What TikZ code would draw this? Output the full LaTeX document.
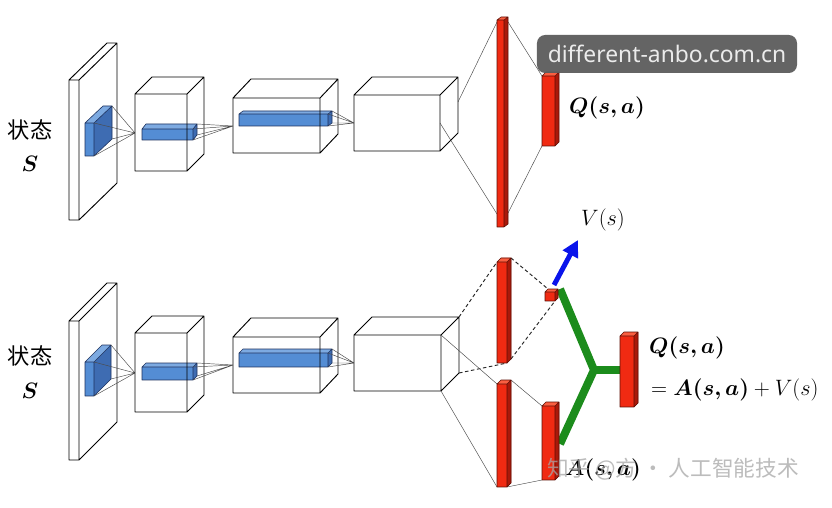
\RequirePackage{fix-cm}
\documentclass[tikz,border=0pt]{standalone}
\usepackage{fontspec}
\usepackage{bm}
\usetikzlibrary{arrows.meta}
\newfontfamily\cjk{Noto Sans CJK SC}
\newfontfamily\wmfont{Noto Sans}
\definecolor{wF}{RGB}{255,255,255}
\definecolor{wT}{RGB}{255,255,255}
\definecolor{wS}{RGB}{255,255,255}
\definecolor{bluF}{RGB}{84,141,212}
\definecolor{bluT}{RGB}{125,170,225}
\definecolor{bluS}{RGB}{62,108,178}
\definecolor{redF}{RGB}{240,42,18}
\definecolor{redT}{RGB}{250,95,65}
\definecolor{redS}{RGB}{170,25,10}
\definecolor{bedgec}{RGB}{30,50,95}
\definecolor{redgec}{RGB}{95,15,5}
\definecolor{greenc}{RGB}{28,140,28}
\definecolor{arrowc}{RGB}{10,20,235}
\definecolor{wmgray}{RGB}{92,92,92}
% cuboid: name, x, y (front top-left), w, h, dx, dy (depth up), colour prefix
\newcommand\mycuboid[8]{%
  \coordinate (#1-a) at (#2,#3);
  \coordinate (#1-b) at (#2+#4,#3);
  \coordinate (#1-c) at (#2+#4,#3+#5);
  \coordinate (#1-d) at (#2,#3+#5);
  \coordinate (#1-e) at (#2+#6,#3-#7);
  \coordinate (#1-f) at (#2+#4+#6,#3-#7);
  \coordinate (#1-g) at (#2+#4+#6,#3+#5-#7);
  \fill[#8F] (#1-a) rectangle (#1-c);
  \fill[#8T] (#1-a) -- (#1-e) -- (#1-f) -- (#1-b) -- cycle;
  \fill[#8S] (#1-b) -- (#1-f) -- (#1-g) -- (#1-c) -- cycle;
}
\newcommand\mycuboidedges[2]{%
  \draw[#2] (#1-a) -- (#1-b) -- (#1-c) -- (#1-d) -- cycle
            (#1-a) -- (#1-e) -- (#1-f) -- (#1-g) -- (#1-c)
            (#1-b) -- (#1-f);
}
\begin{document}
\begin{tikzpicture}[x=0.03cm,y=-0.03cm,
  edge/.style={draw=black,line width=0.8pt,line join=round},
  bedge/.style={draw=bedgec,line width=0.5pt,line join=round},
  redge/.style={draw=redgec,line width=0.5pt,line join=round},
  conn/.style={draw=black!70,line width=0.4pt},
  dconn/.style={draw=black!85,line width=0.8pt,dash pattern=on 3pt off 2.2pt},
  greenline/.style={draw=greenc,line width=6.8pt,line join=miter},
  bluearrow/.style={draw=arrowc,line width=4.2pt,-{Triangle[length=14pt,width=14pt]}},
  lbl/.style={inner sep=0pt,font=\fontsize{19}{23}\selectfont},
  mlbl/.style={inner sep=0pt,font=\fontsize{19}{23}\selectfont},
  wmbox/.style={fill=wmgray,fill opacity=0.95,text opacity=1,text=white!92!black,rounded corners=7pt,minimum width=7.8cm,minimum height=1.14cm,inner sep=0pt,font=\wmfont\fontsize{19.5}{23}\selectfont},
  zhwm/.style={inner sep=0pt,text=black!35,text opacity=0.75,font=\cjk\fontsize{18.5}{22}\selectfont}
]
\useasboundingbox (0,0) rectangle (832,508);
\fill[white] (0,0) rectangle (832,508);

% ================= TOP NETWORK =================
\node[lbl] (tstate) at (30,130) {\cjk 状态};
\node[mlbl] (tS) at (30,164) {$\bm{S}$};

\mycuboid{ts}{69}{80}{10}{140}{38}{37}{w}
\mycuboidedges{ts}{edge}
\mycuboid{tb1}{85}{123}{9}{33}{18}{17}{blu}
\mycuboidedges{tb1}{bedge}
\coordinate (tp1) at (135,133);
\draw[conn] (tb1-f) -- (tp1) (tb1-g) -- (tp1) (tb1-b) -- (tp1) (tb1-c) -- (tp1);

\mycuboid{tc2}{135}{94}{52}{77}{17}{17}{w}
\mycuboid{tb2}{142}{129}{51}{11}{4}{5}{blu}
\mycuboidedges{tb2}{bedge}
\mycuboidedges{tc2}{edge}
\coordinate (tp2) at (233,126);
\draw[conn] (tb2-f) -- (tp2) (tb2-g) -- (tp2) (tb2-b) -- (tp2) (tb2-c) -- (tp2);

\mycuboid{tc3}{233}{98}{87}{55}{18}{19}{w}
\mycuboid{tb3}{239}{114}{89}{12}{4}{3}{blu}
\mycuboidedges{tb3}{bedge}
\mycuboidedges{tc3}{edge}
\coordinate (tp3) at (354,123);
\draw[conn] (tb3-f) -- (tp3) (tb3-g) -- (tp3) (tb3-b) -- (tp3) (tb3-c) -- (tp3);

\mycuboid{tc4}{354}{95}{86}{56}{18}{18}{w}
\mycuboidedges{tc4}{edge}

\coordinate (tc4-u) at (458,102);
\coordinate (tc4-l) at (440,123);
\coordinate (tr1-tl) at (497,22);
\coordinate (tr1-l) at (497,214);
\coordinate (tr1-r) at (508,213);
\coordinate (tr1-t) at (508,22);
\draw[conn] (tc4-u) -- (tr1-tl) (tc4-l) -- (tr1-l);
\mycuboid{tr2}{542}{76}{13}{70}{4}{4}{red}
\draw[conn] (tr1-t) -- (tr2-a) (tr1-r) -- (tr2-d);
\mycuboid{tr1}{497}{20}{7}{207}{4}{3}{red}
\mycuboidedges{tr1}{redge}
\mycuboidedges{tr2}{redge}

\node[mlbl] (tQ) at (607,108) {$\bm{Q(s,a)}$};
\node[mlbl] (tV) at (603,220) {$V(s)$};

% ================= BOTTOM NETWORK =================
\node[lbl] (bstate) at (30,356) {\cjk 状态};
\node[mlbl] (bS) at (30,391) {$\bm{S}$};

\mycuboid{bs}{69}{321}{10}{139}{38}{38}{w}
\mycuboidedges{bs}{edge}
\mycuboid{bb1}{85}{362}{9}{34}{17}{17}{blu}
\mycuboidedges{bb1}{bedge}
\coordinate (bp1) at (135,373);
\draw[conn] (bb1-f) -- (bp1) (bb1-g) -- (bp1) (bb1-b) -- (bp1) (bb1-c) -- (bp1);

\mycuboid{bc2}{135}{333}{52}{79}{17}{17}{w}
\mycuboid{bb2}{142}{367}{51}{13}{4}{4}{blu}
\mycuboidedges{bb2}{bedge}
\mycuboidedges{bc2}{edge}
\coordinate (bp2) at (233,365);
\draw[conn] (bb2-f) -- (bp2) (bb2-g) -- (bp2) (bb2-b) -- (bp2) (bb2-c) -- (bp2);

\mycuboid{bc3}{233}{337}{87}{56}{18}{19}{w}
\mycuboid{bb3}{239}{353}{89}{14}{4}{4}{blu}
\mycuboidedges{bb3}{bedge}
\mycuboidedges{bc3}{edge}
\coordinate (bp3) at (354,363);
\draw[conn] (bb3-f) -- (bp3) (bb3-g) -- (bp3) (bb3-b) -- (bp3) (bb3-c) -- (bp3);

\mycuboid{bc4}{354}{335}{87}{56}{18}{18}{w}
\mycuboidedges{bc4}{edge}

% red layers (coordinates first)
\mycuboid{br1}{497}{262}{10}{101}{4}{4}{red}
\mycuboid{brs}{545}{292}{10}{9}{3}{3}{red}
\mycuboid{br2}{497}{384}{10}{103}{4}{4}{red}
\mycuboid{br3}{542}{406}{13}{74}{4}{4}{red}
\mycuboid{bro}{620}{336}{14}{71}{4}{4}{red}

% connectors (dashed value stream, solid advantage stream)
\draw[dconn] (bc4-f) -- (br1-a) (bc4-g) -- (br1-c);
\draw[dconn] (br1-f) -- (brs-e) (br1-g) -- (brs-c);
\draw[conn] (bc4-b) -- (br2-a) (bc4-c) -- (br2-d);
\draw[conn] (br2-f) -- (br3-a) (br2-c) -- (br3-d);

% green aggregation
\coordinate (gj) at (594,370);
\coordinate (gs) at (560,289);
\coordinate (ga) at (560,444);
\coordinate (go) at (620,370);
\draw[greenline] (gs) -- (gj) -- (ga);
\draw[greenline] (gj) -- (go);

% redraw red layers on top
\mycuboid{br1}{497}{262}{10}{101}{4}{4}{red}
\mycuboidedges{br1}{redge}
\mycuboid{brs}{545}{292}{10}{9}{3}{3}{red}
\mycuboidedges{brs}{redge}
\mycuboid{br2}{497}{384}{10}{103}{4}{4}{red}
\mycuboidedges{br2}{redge}
\mycuboid{br3}{542}{406}{13}{74}{4}{4}{red}
\mycuboidedges{br3}{redge}
\mycuboid{bro}{620}{336}{14}{71}{4}{4}{red}
\mycuboidedges{bro}{redge}

% blue arrow to V(s)
\coordinate (va0) at (554,285);
\coordinate (va1) at (578,240);
\draw[bluearrow] (va0) -- (va1);

\node[mlbl] (bQ) at (687,348) {$\bm{Q(s,a)}$};
\node[mlbl,anchor=west] (bsum) at (651,390) {$= \bm{A(s,a)} + V(s)$};
\node[mlbl] (bA) at (603,470) {$\bm{A(s,a)}$};

% watermarks
\node[wmbox] (wm1) at (667,54) {different-anbo.com.cn};
\node[zhwm] (wm2) at (673,469) {知乎 @方 · 人工智能技术};
\end{tikzpicture}
\end{document}
